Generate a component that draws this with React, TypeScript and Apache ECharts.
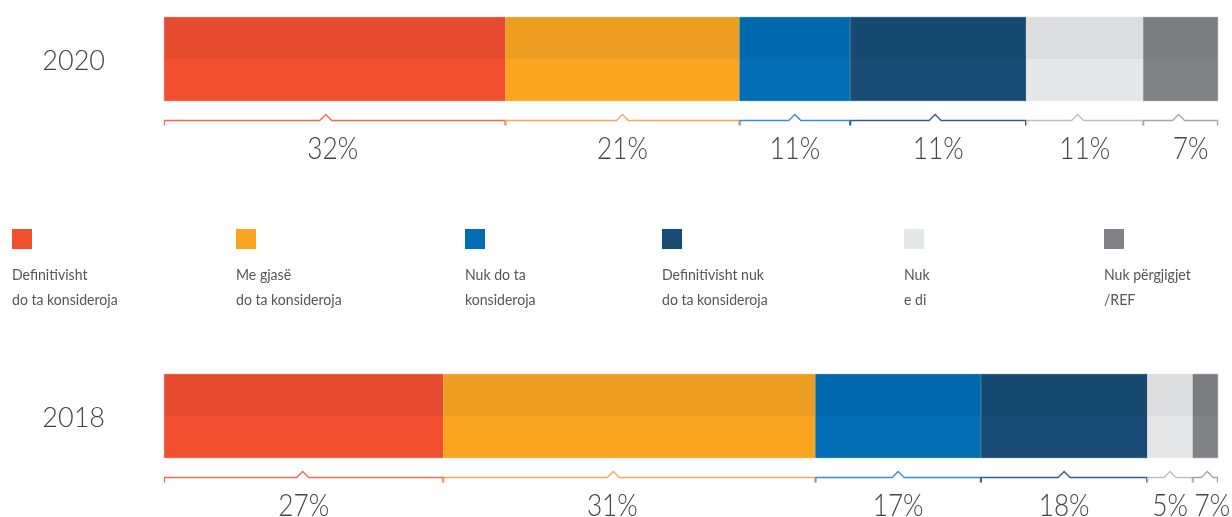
import React, { useEffect, useRef } from 'react';
import * as echarts from 'echarts';

const categories = [
  'Definitivisht\ndo ta konsideroja',
  'Me gjasë\ndo ta konsideroja',
  'Nuk do ta\nkonsideroja',
  'Definitivisht nuk\ndo ta konsideroja',
  'Nuk\ne di',
  'Nuk përgjigjet\n/REF',
];
const yearTop = '2020';
const yearBottom = '2018';
const values2020 = [32.4, 22.2, 10.5, 16.7, 11.1, 7.1];
const values2018 = [26.5, 35.3, 15.7, 15.8, 4.3, 2.4];
const labels2020 = ['32%', '21%', '11%', '11%', '11%', '7%'];
const labels2018 = ['27%', '31%', '17%', '18%', '5%', '7%'];
const topColors = ['#E54C2F', '#EC9E22', '#0069AE', '#164A71', '#DCDDDE', '#7C7D80'];
const bottomColors = ['#F14F2F', '#F9A51F', '#006DB5', '#184C74', '#E6E7E8', '#818285'];
const bracketColors = ['#F26A4F', '#F9A65A', '#3A8CCB', '#2F5F86', '#BEBFC1', '#A3A4A6'];

// layout-only constants (pixel nudges)
const legendX = [12, 236, 465, 662, 904, 1104];
const labelShiftTop = [-2, 0, 0, 0, 0, 10];
const labelShiftBottom = [0, -17, 0, 0, 0, 7];
const peakShiftTop = [-9, 0, 0, -3, -7, -2];
const peakShiftBottom = [-1, -16, 0, 0, 0, 2];
const FONT = 'Lato, "Noto Sans", sans-serif';

function gradient(i: number) {
  return {
    type: 'linear', x: 0, y: 0, x2: 0, y2: 1,
    colorStops: [
      { offset: 0, color: topColors[i] },
      { offset: 0.5, color: topColors[i] },
      { offset: 0.5, color: bottomColors[i] },
      { offset: 1, color: bottomColors[i] },
    ],
  };
}

function spans(values: number[]) {
  let acc = 0;
  return values.map((v, i) => {
    const s = acc;
    acc += v;
    return [s, acc, i];
  });
}

function sum(a: number[]) {
  return a.reduce((x, y) => x + y, 0);
}

export default function App() {
  const ref = useRef<HTMLDivElement>(null);
  useEffect(() => {
    if (!ref.current) return;
    const chart = echarts.init(ref.current, undefined, { renderer: 'svg' });
    const grids = [
      { left: 164, top: 17, width: 1054, height: 84 },
      { left: 164, top: 374, width: 1054, height: 84 },
    ];
    const yearNames = [yearTop, yearBottom];
    const valueSets = [values2020, values2018];
    const labelSets = [labels2020, labels2018];
    const shiftSets = [labelShiftTop, labelShiftBottom];
    const peakSets = [peakShiftTop, peakShiftBottom];

    const series: any[] = [];
    valueSets.forEach((vals, g) => {
      vals.forEach((v, i) => {
        series.push({
          type: 'bar',
          name: categories[i],
          xAxisIndex: g,
          yAxisIndex: g,
          stack: 'y' + g,
          barWidth: 84,
          data: [v],
          itemStyle: { color: gradient(i), borderColor: gradient(i), borderWidth: 0.6 },
          silent: true,
        });
      });
      const labels = labelSets[g];
      const shifts = shiftSets[g];
      const peaks = peakSets[g];
      series.push({
        type: 'custom',
        xAxisIndex: g,
        yAxisIndex: g,
        clip: false,
        silent: true,
        z: 5,
        data: spans(vals),
        renderItem: (params: any, api: any) => {
          const s = api.value(0);
          const e = api.value(1);
          const i = api.value(2);
          const p0 = api.coord([s, 0]);
          const p1 = api.coord([e, 0]);
          const yl = Math.round(p0[1] + 61) + 0.5;
          const mid = (p0[0] + p1[0]) / 2;
          const pk = mid + peaks[i];
          return {
            type: 'group',
            children: [
              {
                type: 'polyline',
                shape: {
                  points: [
                    [p0[0] + 0.5, yl + 5],
                    [p0[0] + 0.5, yl],
                    [pk - 6, yl],
                    [pk, yl - 6],
                    [pk + 6, yl],
                    [p1[0] - 0.5, yl],
                    [p1[0] - 0.5, yl + 5],
                  ],
                },
                style: { stroke: bracketColors[i], lineWidth: 1.3, fill: null },
              },
              {
                type: 'text',
                x: mid + shifts[i],
                y: yl + 26,
                scaleX: 0.82,
                style: {
                  text: labels[i],
                  fill: '#454545',
                  font: `300 32px ${FONT}`,
                  align: 'center',
                  verticalAlign: 'middle',
                },
              },
            ],
          };
        },
      });
    });

    const graphic: any[] = [];
    categories.forEach((c, i) => {
      graphic.push({
        type: 'rect',
        left: legendX[i],
        top: 229,
        shape: { width: 20, height: 20 },
        style: { fill: bottomColors[i] },
        silent: true,
      });
      graphic.push({
        type: 'text',
        x: legendX[i],
        y: 261,
        scaleX: 0.88,
        style: {
          text: c,
          fill: '#555555',
          font: `16px ${FONT}`,
          lineHeight: 25,
        },
        silent: true,
      });
    });

    chart.setOption({
      animation: false,
      grid: grids,
      xAxis: valueSets.map((vals, g) => ({
        type: 'value',
        gridIndex: g,
        min: 0,
        max: sum(vals),
        show: false,
      })),
      yAxis: yearNames.map((y, g) => ({
        type: 'category',
        gridIndex: g,
        data: [y],
        axisLine: { show: false },
        axisTick: { show: false },
        axisLabel: {
          margin: 59,
          fontSize: 27,
          fontWeight: 300,
          color: '#444444',
          fontFamily: FONT,
        },
      })),
      series,
      graphic,
    });
    return () => chart.dispose();
  }, []);
  return (
    <div
      ref={ref}
      style={{ position: 'fixed', left: 0, top: 0, width: 1232, height: 517 }}
    />
  );
}
